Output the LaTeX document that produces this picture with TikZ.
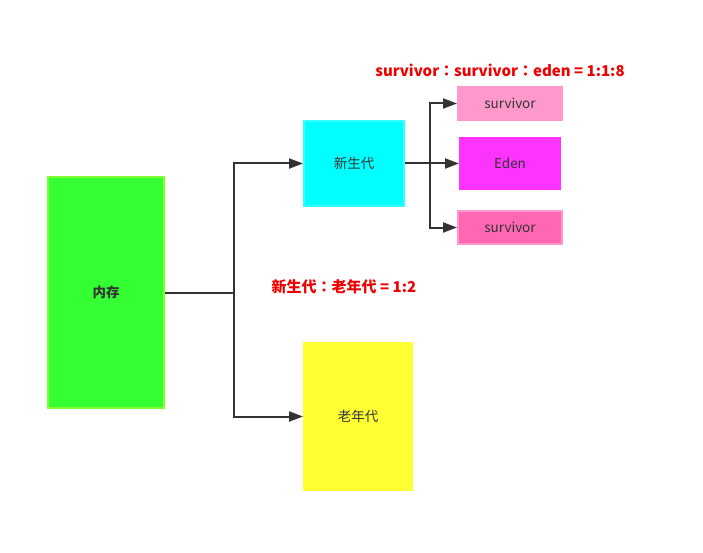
\documentclass[tikz,border=0pt]{standalone}
\usepackage{fontspec}
\setmainfont{Noto Sans CJK SC}
\newfontfamily\tcfont{Noto Sans CJK TC}
\usetikzlibrary{arrows.meta}
\definecolor{linec}{HTML}{333333}
\definecolor{redc}{HTML}{EE0000}
\newcommand{\mycolon}{{\tcfont ：}}
\begin{document}
\begin{tikzpicture}[x=1pt,y=-1pt,
  box/.style={draw, line width=2pt, inner sep=0pt, font=\fontsize{13.5}{15}\selectfont, text=linec},
  conn/.style={draw=linec, line width=2pt, -{Triangle[length=14pt,width=10pt]}},
  plain/.style={draw=linec, line width=2pt},
  ratio/.style={text=redc, font=\bfseries\fontsize{15}{18}\selectfont, inner sep=0pt}]
\useasboundingbox (0,0) rectangle (703,553);
\fill[white] (0,0) rectangle (703,553);
\node[box, fill={rgb,255:red,51;green,255;blue,51}, draw={rgb,255:red,128;green,255;blue,51}, minimum width=116pt, minimum height=231pt, font=\bfseries\fontsize{13.5}{15}\selectfont] (mem) at (106,292.5) {内存};
\node[box, fill={rgb,255:red,0;green,255;blue,255}, draw={rgb,255:red,51;green,255;blue,255}, minimum width=100pt, minimum height=85pt] (young) at (354,163.5) {新生代};
\node[box, fill={rgb,255:red,255;green,255;blue,51}, draw={rgb,255:red,255;green,255;blue,51}, minimum width=108pt, minimum height=147pt] (old) at (358,416.5) {老年代};
\node[box, fill={rgb,255:red,255;green,153;blue,204}, draw={rgb,255:red,255;green,153;blue,204}, minimum width=104pt, minimum height=33pt] (s1) at (510,103.5) {survivor};
\node[box, fill={rgb,255:red,255;green,51;blue,255}, draw={rgb,255:red,255;green,51;blue,255}, minimum width=100pt, minimum height=51pt] (eden) at (510,163.5) {Eden};
\node[box, fill={rgb,255:red,255;green,102;blue,179}, draw={rgb,255:red,255;green,153;blue,204}, minimum width=104pt, minimum height=33pt] (s2) at (510,227.5) {survivor};
\coordinate (j1) at (234,292.5);
\coordinate (j2) at (430,163.5);
\draw[plain] (mem.east) -- (j1);
\draw[conn] (j1) |- (young.west);
\draw[conn] (j1) |- (old.west);
\draw[plain] (young.east) -- (j2);
\draw[conn] (j2) |- (s1.west);
\draw[conn] (j2) -- (eden.west);
\draw[conn] (j2) |- (s2.west);
\node[ratio] (r1) at (500,70) {survivor\mycolon survivor\mycolon eden = 1:1:8};
\node[ratio] (r2) at (344,287) {新生代\mycolon 老年代 = 1:2};
\end{tikzpicture}
\end{document}
